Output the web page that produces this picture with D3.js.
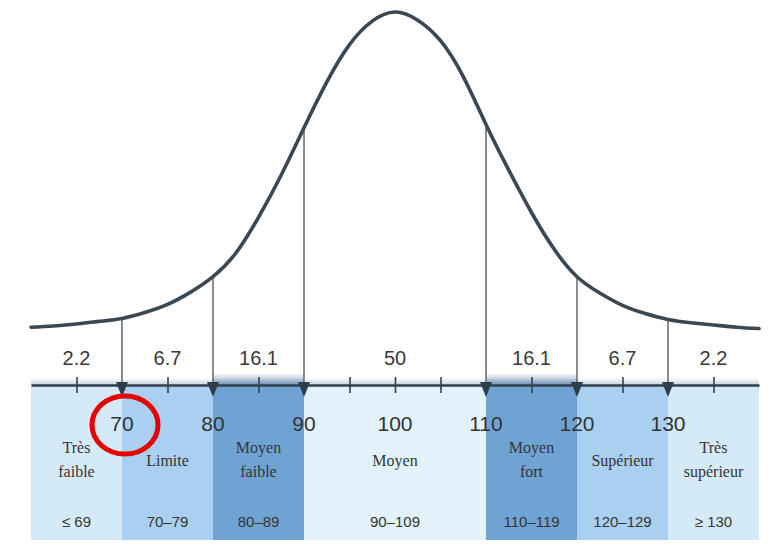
<!DOCTYPE html>
<html>
<head>
<meta charset="utf-8">
<script src="https://cdn.jsdelivr.net/npm/d3@7/dist/d3.min.js"></script>
<style>
  html, body { margin: 0; padding: 0; background: #ffffff; }
  svg { display: block; }
</style>
</head>
<body>
<svg id="chart" width="778" height="560"></svg>
<script>
// Bell curve of IQ scores: sampled curve heights (relative to the peak)
const curveIQ     = [60, 62.5, 65, 67.5, 70, 72.5, 75, 77.5, 80, 82.5, 85, 87.5, 90, 92.5, 95, 97.5, 100,
                     102.5, 105, 107.5, 110, 112.5, 115, 117.5, 120, 122.5, 125, 127.5, 130, 132.5, 135, 137.5, 140];
const curveHeight = [0.033, 0.037, 0.043, 0.051, 0.060, 0.078, 0.103, 0.140, 0.188, 0.260, 0.370, 0.500, 0.645, 0.785, 0.900, 0.972, 1.0,
                     0.975, 0.912, 0.802, 0.655, 0.515, 0.385, 0.272, 0.188, 0.138, 0.100, 0.075, 0.057, 0.047, 0.040, 0.033, 0.029];

// Classification bands
const bandStart  = [60, 70, 80, 90, 110, 120, 130];
const bandEnd    = [70, 80, 90, 110, 120, 130, 140];
const bandNames  = [["Très", "faible"], ["Limite"], ["Moyen", "faible"], ["Moyen"], ["Moyen", "fort"], ["Supérieur"], ["Très", "supérieur"]];
const bandRanges = ["≤ 69", "70–79", "80–89", "90–109", "110–119", "120–129", "≥ 130"];
const bandShade  = ["#d5eaf7", "#a9d0f0", "#6fa3d3", "#e2f1fa", "#6fa3d3", "#a9d0f0", "#d5eaf7"];
const bandPercent = ["2.2", "6.7", "16.1", "50", "16.1", "6.7", "2.2"];
const percentAt   = [65, 75, 85, 100, 115, 125, 135];

// Cut-off scores marked with arrows
const cutScores = [70, 80, 90, 110, 120, 130];
// Minor tick marks on the score axis
const minorTicks = [65, 75, 85, 95, 100, 105, 115, 125, 135];

const svg = d3.select("#chart");
const axisY = 385;
const bandBottom = 540;

const x = d3.scaleLinear().domain([60, 140]).range([31, 759]);
const y = d3.scaleLinear().domain([0, 1]).range([338, 12]);

// gradients for the shadow just above the axis
const defs = svg.append("defs");
const gDark = defs.append("linearGradient").attr("id", "shadeDark").attr("x1", 0).attr("y1", 0).attr("x2", 0).attr("y2", 1);
gDark.append("stop").attr("offset", "0%").attr("stop-color", "#4f79a6").attr("stop-opacity", 0);
gDark.append("stop").attr("offset", "100%").attr("stop-color", "#4f79a6").attr("stop-opacity", 0.7);
const gLight = defs.append("linearGradient").attr("id", "shadeLight").attr("x1", 0).attr("y1", 0).attr("x2", 0).attr("y2", 1);
gLight.append("stop").attr("offset", "0%").attr("stop-color", "#8aa3b8").attr("stop-opacity", 0);
gLight.append("stop").attr("offset", "100%").attr("stop-color", "#8aa3b8").attr("stop-opacity", 0.5);

const bands = bandStart.map((s, i) => ({
  start: s, end: bandEnd[i], name: bandNames[i], range: bandRanges[i], shade: bandShade[i]
}));

// coloured bands under the axis
svg.append("g").selectAll("rect").data(bands).join("rect")
  .attr("x", d => x(d.start))
  .attr("y", axisY)
  .attr("width", d => x(d.end) - x(d.start))
  .attr("height", bandBottom - axisY)
  .attr("fill", d => d.shade);

// soft shadow above the axis
svg.append("rect")
  .attr("x", x(60)).attr("y", axisY - 7)
  .attr("width", x(140) - x(60)).attr("height", 7)
  .attr("fill", "url(#shadeLight)");
svg.append("g").selectAll("rect").data(bands.filter(d => d.shade === "#6fa3d3")).join("rect")
  .attr("x", d => x(d.start))
  .attr("y", axisY - 12)
  .attr("width", d => x(d.end) - x(d.start))
  .attr("height", 12)
  .attr("fill", "url(#shadeDark)");

// the bell curve
const pts = curveIQ.map((v, i) => [v, curveHeight[i]]);
svg.append("path")
  .datum(pts)
  .attr("fill", "none")
  .attr("stroke", "#3b4853")
  .attr("stroke-width", 3.6)
  .attr("stroke-linecap", "round")
  .attr("d", d3.line().x(d => x(d[0])).y(d => y(d[1])).curve(d3.curveNatural));

// drop lines from the curve to the axis at each cut-off
const heightAt = v => curveHeight[curveIQ.indexOf(v)];
svg.append("g").selectAll("line").data(cutScores).join("line")
  .attr("x1", d => x(d)).attr("x2", d => x(d))
  .attr("y1", d => y(heightAt(d)))
  .attr("y2", axisY)
  .attr("stroke", "#4a4f55")
  .attr("stroke-width", 1.3);

// score axis with minor ticks crossing the line
const axis = d3.axisBottom(x)
  .tickValues(minorTicks)
  .tickSize(16)
  .tickSizeOuter(0)
  .tickFormat("");
const axisG = svg.append("g")
  .attr("transform", `translate(0,${axisY})`)
  .call(axis);
axisG.select(".domain").attr("stroke", "#33414e").attr("stroke-width", 2.6);
axisG.selectAll(".tick line").attr("y1", -8).attr("y2", 8).attr("stroke", "#33414e").attr("stroke-width", 1.6);

// arrowheads at the cut-offs
svg.append("g").selectAll("path").data(cutScores).join("path")
  .attr("d", d => `M${x(d) - 6},${axisY - 3} L${x(d) + 6},${axisY - 3} L${x(d)},${axisY + 12} Z`)
  .attr("fill", "#2e3d4a");

// percentage of population in each band
svg.append("g").selectAll("text").data(bandPercent).join("text")
  .attr("x", (d, i) => x(percentAt[i]))
  .attr("y", 365)
  .attr("text-anchor", "middle")
  .attr("font-family", "'Liberation Sans', Arial, sans-serif")
  .attr("font-size", 20)
  .attr("fill", "#3a3a3a")
  .text(d => d);

// cut-off score labels
const scoreFont = g => g
  .attr("text-anchor", "middle")
  .attr("font-family", "'Liberation Sans', Arial, sans-serif")
  .attr("font-size", 21)
  .attr("fill", "#333");
svg.append("g").selectAll("text").data(cutScores).join("text")
  .attr("x", d => x(d))
  .attr("y", 431)
  .call(scoreFont)
  .text(d => d);
svg.append("text")
  .attr("x", x(100)).attr("y", 431)
  .call(scoreFont)
  .text("100");

// band names
const nameG = svg.append("g").selectAll("text").data(bands).join("text")
  .attr("text-anchor", "middle")
  .attr("font-family", "'Liberation Serif', 'Times New Roman', serif")
  .attr("font-size", 16)
  .attr("fill", "#353535");
nameG.each(function(d) {
  const t = d3.select(this);
  const cx = (x(d.start) + x(d.end)) / 2;
  const lines = d.name;
  const first = lines.length === 1 ? 466 : 453;
  lines.forEach((ln, k) => {
    t.append("tspan").attr("x", cx).attr("y", first + k * 24).text(ln);
  });
});

// score ranges
svg.append("g").selectAll("text").data(bands).join("text")
  .attr("x", d => (x(d.start) + x(d.end)) / 2)
  .attr("y", 527)
  .attr("text-anchor", "middle")
  .attr("font-family", "'Liberation Sans', Arial, sans-serif")
  .attr("font-size", 15)
  .attr("fill", "#353535")
  .text(d => d.range);

// red circle highlighting the 70 cut-off
svg.append("ellipse")
  .attr("cx", x(70) + 3)
  .attr("cy", 425)
  .attr("rx", 33)
  .attr("ry", 29)
  .attr("fill", "none")
  .attr("stroke", "#e60000")
  .attr("stroke-width", 5);
</script>
</body>
</html>
